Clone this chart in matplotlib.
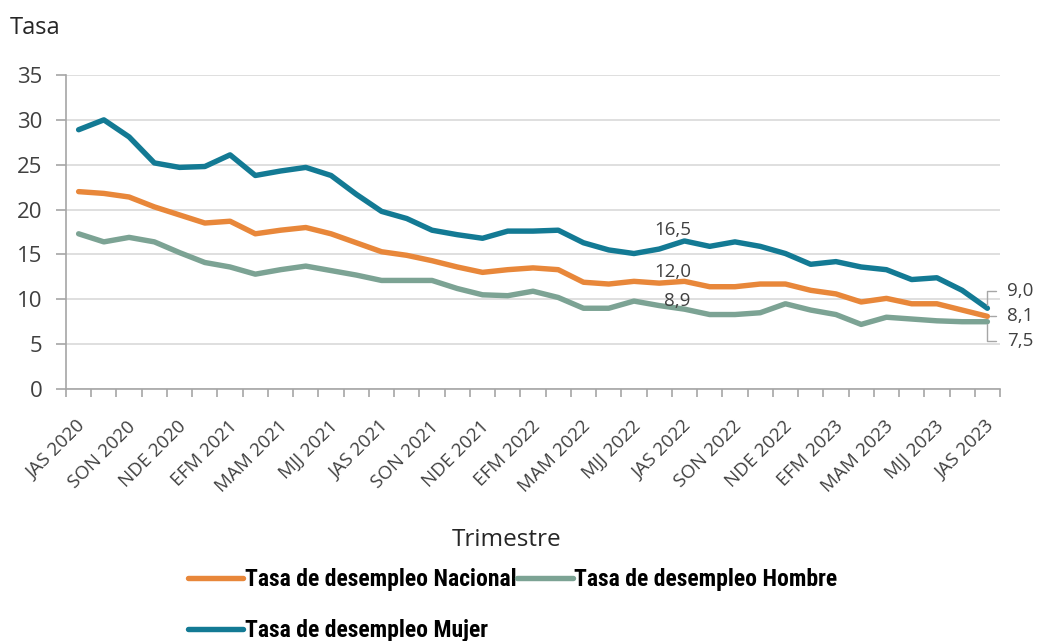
import matplotlib
matplotlib.use("Agg")
import matplotlib.pyplot as plt
import matplotlib.transforms as mtransforms
from matplotlib import font_manager
import numpy as np

# etiquetas de trimestre movil (jul 2020 - sep 2023)
trimestres = [
    "JAS 2020", "ASO 2020", "SON 2020", "OND 2020", "NDE 2020", "DEF 2021",
    "EFM 2021", "FMA 2021", "MAM 2021", "AMJ 2021", "MJJ 2021", "JJA 2021",
    "JAS 2021", "ASO 2021", "SON 2021", "OND 2021", "NDE 2021", "DEF 2022",
    "EFM 2022", "FMA 2022", "MAM 2022", "AMJ 2022", "MJJ 2022", "JJA 2022",
    "JAS 2022", "ASO 2022", "SON 2022", "OND 2022", "NDE 2022", "DEF 2023",
    "EFM 2023", "FMA 2023", "MAM 2023", "AMJ 2023", "MJJ 2023", "JJA 2023",
    "JAS 2023",
]

nacional = [22.0, 21.8, 21.4, 20.3, 19.4, 18.5, 18.7, 17.3, 17.7, 18.0, 17.3, 16.3,
            15.3, 14.9, 14.3, 13.6, 13.0, 13.3, 13.5, 13.3, 11.9, 11.7, 12.0, 11.8,
            12.0, 11.4, 11.4, 11.7, 11.7, 11.0, 10.6, 9.7, 10.1, 9.5, 9.5, 8.8, 8.1]
hombre = [17.3, 16.4, 16.9, 16.4, 15.2, 14.1, 13.6, 12.8, 13.3, 13.7, 13.2, 12.7,
          12.1, 12.1, 12.1, 11.2, 10.5, 10.4, 10.9, 10.2, 9.0, 9.0, 9.8, 9.3,
          8.9, 8.3, 8.3, 8.5, 9.5, 8.8, 8.3, 7.2, 8.0, 7.8, 7.6, 7.5, 7.5]
mujer = [28.9, 30.0, 28.1, 25.2, 24.7, 24.8, 26.1, 23.8, 24.3, 24.7, 23.8, 21.7,
         19.8, 19.0, 17.7, 17.2, 16.8, 17.6, 17.6, 17.7, 16.3, 15.5, 15.1, 15.6,
         16.5, 15.9, 16.4, 15.9, 15.1, 13.9, 14.2, 13.6, 13.3, 12.2, 12.4, 11.0, 9.0]

c_nac = "#E8873A"
c_hom = "#7CA394"
c_muj = "#137A94"
txt = "#404040"

plt.rcParams["font.family"] = ["Open Sans", "DejaVu Sans"]

# fuente angosta para la leyenda si existe
instaladas = {f.name for f in font_manager.fontManager.ttflist}
leg_font = "Liberation Sans"
for cand in ["Roboto Condensed", "Liberation Sans Narrow", "Open Sans Condensed"]:
    if cand in instaladas:
        leg_font = cand
        break

fig = plt.figure(figsize=(10.37, 6.41), dpi=100)
ax = fig.add_axes([66 / 1037, 1 - 389 / 641, (1000 - 66) / 1037, (389 - 75) / 641])

x = np.arange(len(trimestres))
ax.plot(x, nacional, color=c_nac, lw=3.9, solid_capstyle="round", label="Tasa de desempleo Nacional")
ax.plot(x, hombre, color=c_hom, lw=3.9, solid_capstyle="round", label="Tasa de desempleo Hombre")
ax.plot(x, mujer, color=c_muj, lw=3.9, solid_capstyle="round", label="Tasa de desempleo Mujer")

ax.set_xlim(-0.5, len(x) - 0.5)
ax.set_ylim(0, 35)
ax.set_yticks(range(0, 36, 5))
ax.grid(axis="y", color="#d9d9d9", lw=1.2)
ax.set_axisbelow(True)

for s in ["top", "right"]:
    ax.spines[s].set_visible(False)
for s in ["left", "bottom"]:
    ax.spines[s].set_color("#a6a6a6")
    ax.spines[s].set_linewidth(1.2)

ax.set_xticks(x[::2])
ax.set_xticklabels(trimestres[::2], rotation=45, ha="right", va="center",
                   rotation_mode="anchor", fontsize=13.5, color=txt)
ax.set_xticks(np.arange(-0.5, len(x)), minor=True)
ax.tick_params(axis="x", which="major", length=0, pad=25)
ax.tick_params(axis="x", which="minor", length=6, color="#a6a6a6", width=1.2)
ax.tick_params(axis="y", length=7, color="#a6a6a6", width=1.2, labelsize=16,
               labelcolor=txt, pad=10)
shift = mtransforms.ScaledTranslation(4 / 100, 0, fig.dpi_scale_trans)
for lab in ax.get_xticklabels():
    lab.set_transform(lab.get_transform() + shift)

# etiquetas de datos
i = trimestres.index("JAS 2022")
for serie, dx, dy in [(mujer, -12, 6), (nacional, -12, 4), (hombre, -7, 3)]:
    ax.annotate(f"{serie[i]:.1f}".replace(".", ","), (x[i], serie[i]),
                xytext=(dx, dy), textcoords="offset pixels", ha="center",
                va="baseline", fontsize=13.5, color=txt)

last = len(x) - 1
leader = dict(arrowstyle="-", color="#a6a6a6", lw=1,
              connectionstyle="angle,angleA=0,angleB=90,rad=0", shrinkA=6, shrinkB=2)
for serie, dy in [(mujer, 17), (nacional, 0), (hombre, -19)]:
    ax.annotate(f"{serie[last]:.1f}".replace(".", ","), (x[last], serie[last]),
                xytext=(20, dy), textcoords="offset pixels", ha="left", va="center",
                fontsize=13.5, color=txt, annotation_clip=False, arrowprops=leader)

fig.text(10 / 1037, 1 - 28 / 641, "Tasa", fontsize=17, color="#262626", va="center")
fig.text(507 / 1037, 1 - 540 / 641, "Trimestre", fontsize=17.5, color="#262626",
         ha="center", va="center")

h, l = ax.get_legend_handles_labels()
orden = [0, 2, 1]
fig.legend([h[k] for k in orden], [l[k] for k in orden], loc="upper left",
           bbox_to_anchor=(188 / 1037, 1 - 568 / 641), ncol=2,
           frameon=False, handlelength=2.35, handletextpad=0.05, columnspacing=0.05,
           labelspacing=1.2, borderaxespad=0, borderpad=0, labelcolor="black",
           prop={"family": leg_font, "weight": "bold", "size": 17})

fig.savefig("out.png", dpi=100)
